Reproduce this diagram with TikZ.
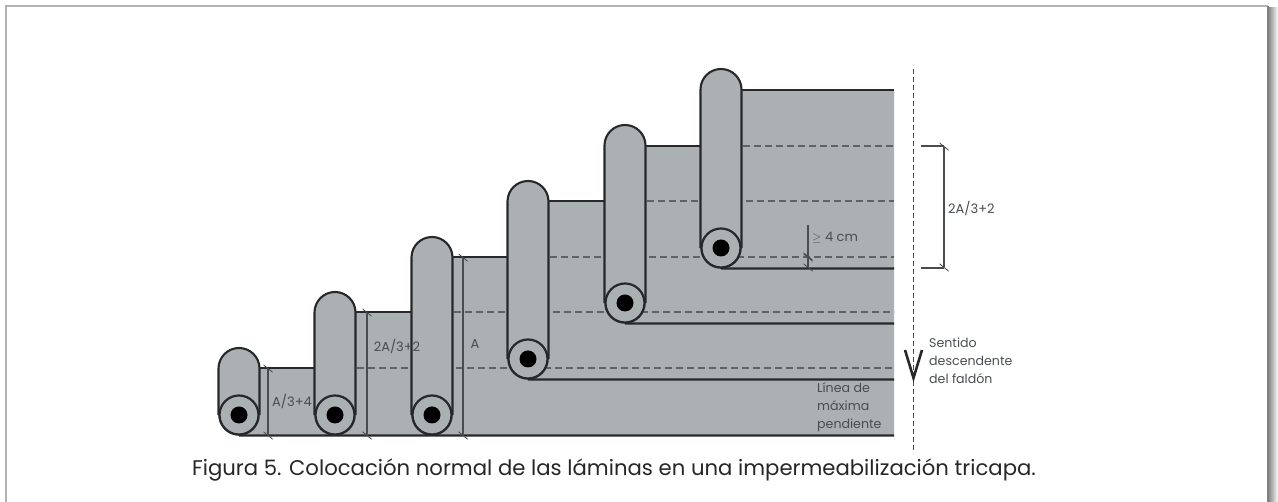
\documentclass[tikz,border=0pt]{standalone}
\usepackage{fontspec}
\setmainfont{Poppins}
\usepackage{amsmath}
\usetikzlibrary{arrows.meta}
\definecolor{sheetgray}{HTML}{ABB0B3}
\definecolor{inkdark}{HTML}{26292B}
\definecolor{dimgray}{HTML}{4A4D4F}
\definecolor{seamgray}{HTML}{5F6366}
\begin{document}
\begin{tikzpicture}[x=1pt,y=1pt,
    sheet/.style ={draw=inkdark, line width=2.3pt},
    seam/.style ={draw=seamgray, line width=1.9pt, dash pattern=on 7pt off 4pt},
    rollbody/.style ={draw=inkdark, line width=2.1pt, fill=sheetgray},
    rollend/.style ={circle, draw=inkdark, line width=2.2pt, fill=sheetgray, inner sep=0pt, minimum size=39pt},
    rollcore/.style ={circle, fill=black, inner sep=0pt, minimum size=17pt},
    dimline/.style ={draw=dimgray, line width=1.1pt, {Bar[width=9pt,slant=0.8]}-{Bar[width=9pt,slant=0.8]}},
    dimtext/.style ={text=dimgray, inner sep=0pt, font=\fontsize{13}{15}\selectfont},
    notetext/.style ={text=dimgray, inner sep=0pt, align=left, font=\fontsize{12.6}{18}\selectfont}]
   \useasboundingbox (0,0) rectangle (1278,502);

   % frame
   \coordinate (fa) at (6,0);
   \coordinate (fb) at (6,496);
   \coordinate (fc) at (1268,496);
   \coordinate (fd) at (1268,0);
   \shade[left color=gray!90, right color=white] (1269,0) rectangle (1278,494);
   \draw[draw=gray!60, line width=1.8pt] (fa) -- (fb) -- (fc);
   \draw[draw=gray, line width=1.5pt] (fc) -- (fd);

   % sheets
   \fill[sheetgray] (218.5,87) arc (180:270:20.5) -- (894,66.5) -- (894,412) -- (721,412) -- (721,356) -- (625,356) -- (625,301) -- (528,301) -- (528,245) -- (432,245) -- (432,190) -- (335,190) -- (335,134) -- (239,134) -- cycle;

   \node[rollend] (r1) at (239,87) {};
   \node[rollend] (r2) at (335,87) {};
   \node[rollend] (r3) at (432,87) {};
   \node[rollend] (r4) at (528,143) {};
   \node[rollend] (r5) at (625,199) {};
   \node[rollend] (r6) at (721,254) {};

   \coordinate (e1) at (894,66.5);
   \coordinate (e2) at (894,122.5);
   \coordinate (e3) at (894,178.5);
   \coordinate (e4) at (894,233.5);
   \coordinate (e5) at (894,412);

   \draw[sheet] (r1.south) -- (e1);
   \draw[sheet] (r4.south) -- (e2);
   \draw[sheet] (r5.south) -- (e3);
   \draw[sheet] (r6.south) -- (e4);

   \draw[sheet] (239,134) -- (335,134);
   \draw[sheet] (335,190) -- (432,190);
   \draw[sheet] (432,245) -- (528,245);
   \draw[sheet] (528,301) -- (625,301);
   \draw[sheet] (625,356) -- (721,356);
   \draw[sheet] (721,412) -- (e5);

   \draw[seam] (335,134) -- (894,134);
   \draw[seam] (432,190) -- (894,190);
   \draw[seam] (528,245) -- (894,245);
   \draw[seam] (625,301) -- (894,301);
   \draw[seam] (721,356) -- (894,356);

   % rolls
   \draw[rollbody] (218.5,87) -- (218.5,133.5) arc (180:0:20.5) -- (259.5,87);
   \draw[rollbody] (314.5,87) -- (314.5,189.5) arc (180:0:20.5) -- (355.5,87);
   \draw[rollbody] (411.5,87) -- (411.5,244.5) arc (180:0:20.5) -- (452.5,87);
   \draw[rollbody] (507.5,143) -- (507.5,300.5) arc (180:0:20.5) -- (548.5,143);
   \draw[rollbody] (604.5,199) -- (604.5,356.5) arc (180:0:20.5) -- (645.5,199);
   \draw[rollbody] (700.5,254) -- (700.5,412.5) arc (180:0:20.5) -- (741.5,254);

   \node[rollend] at (r1) {};
   \node[rollend] at (r2) {};
   \node[rollend] at (r3) {};
   \node[rollend] at (r4) {};
   \node[rollend] at (r5) {};
   \node[rollend] at (r6) {};
   \node[rollcore] (c1) at (r1) {};
   \node[rollcore] (c2) at (r2) {};
   \node[rollcore] (c3) at (r3) {};
   \node[rollcore] (c4) at (r4) {};
   \node[rollcore] (c5) at (r5) {};
   \node[rollcore] (c6) at (r6) {};

   % dimensions
   \coordinate (d1a) at (268,66);
   \coordinate (d1b) at (268,134);
   \coordinate (d2a) at (367,66);
   \coordinate (d2b) at (367,190);
   \coordinate (d3a) at (463,66);
   \coordinate (d3b) at (463,245);
   \coordinate (d4a) at (944,234);
   \coordinate (d4b) at (944,356);
   \coordinate (x4a) at (921,234);
   \coordinate (x4b) at (921,356);
   \coordinate (d5a) at (808,234);
   \coordinate (d5b) at (808,245);
   \coordinate (d5c) at (808,277);

   \draw[dimline] (d1a) -- (d1b);
   \draw[dimline] (d2a) -- (d2b);
   \draw[dimline] (d3a) -- (d3b);
   \draw[dimline] (d4a) -- (d4b);
   \draw[draw=dimgray, line width=1.1pt] (x4a) -- (d4a);
   \draw[draw=dimgray, line width=1.1pt] (x4b) -- (d4b);
   \draw[dimline] (d5a) -- (d5b);
   \draw[draw=dimgray, line width=1.1pt, {Bar[width=9pt,slant=0.8]}-] (d5b) -- (d5c);

   \node[dimtext] (t1) at (292,101) {A/3+4};
   \node[dimtext] (t2) at (397,156) {2A/3+2};
   \node[dimtext] (t3) at (475,158) {A};
   \node[dimtext, anchor=west] (t4) at (948,294) {2A/3+2};
   \node[dimtext, anchor=west] (t5) at (812,264) {$\geq$ 4 cm};

   % slope
   \coordinate (s1) at (913.5,52);
   \coordinate (s2) at (913.5,435);
   \coordinate (v1) at (905,152);
   \coordinate (v2) at (913.5,124);
   \coordinate (v3) at (922,152);
   \draw[draw=dimgray, line width=1.6pt, dash pattern=on 5pt off 3pt] (s1) -- (s2);
   \draw[draw=inkdark, line width=2.6pt] (v1) -- (v2) -- (v3);

   \node[notetext, anchor=west] (n1) at (929,141) {Sentido\\descendente\\del faldón};
   \node[notetext, anchor=west] (n2) at (817,95) {Línea de\\máxima\\pendiente};

   \node[text=black!85, inner sep=0pt, font=\fontsize{21.2}{25}\selectfont] (cap) at (614,32) {Figura 5. Colocación normal de las láminas en una impermeabilización tricapa.};
 \end{tikzpicture}
\end{document}
